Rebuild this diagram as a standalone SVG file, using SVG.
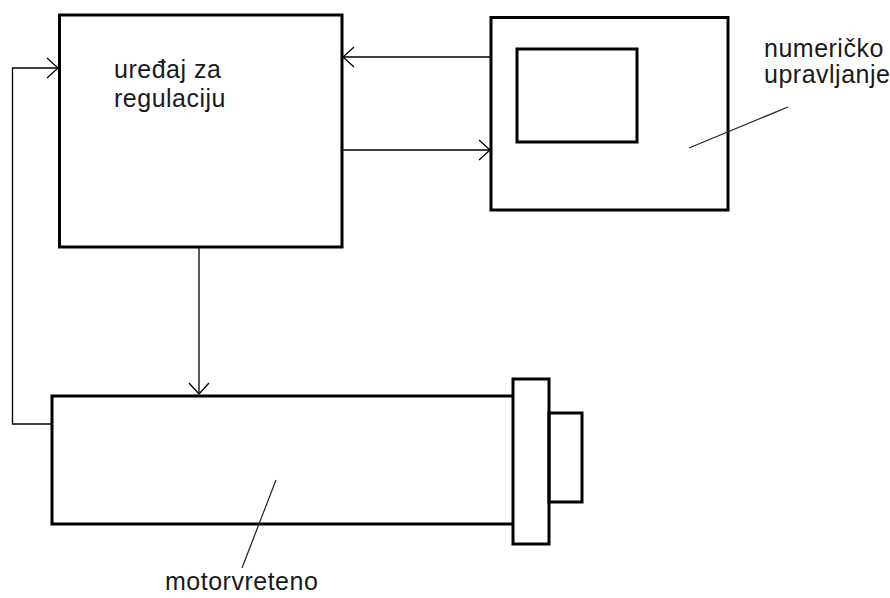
<svg xmlns="http://www.w3.org/2000/svg" width="890" height="598" viewBox="0 0 890 598">
<style>
.box{fill:none;stroke:#000;stroke-width:3}
.con{fill:none;stroke:#000;stroke-width:1.3}
.ptr{fill:none;stroke:#222;stroke-width:1.2}
.lbl{font-family:"Liberation Sans",Arial,sans-serif;font-size:25px;letter-spacing:0.5px;fill:#1a1a1a}
</style>
<defs>
<marker id="arr" markerUnits="userSpaceOnUse" markerWidth="24" markerHeight="24" viewBox="-12 -12 24 24" refX="0" refY="0" orient="auto">
<path d="M-11,-10 L0,0 L-11,10" fill="none" stroke="#000" stroke-width="1.3"/>
</marker>
</defs>
<rect width="890" height="598" fill="#fff"/>
<g id="connectors">
<line class="con" x1="491" y1="57" x2="343" y2="57" marker-end="url(#arr)"/>
<line class="con" x1="343" y1="150" x2="490" y2="150" marker-end="url(#arr)"/>
<line class="con" x1="199" y1="248" x2="199" y2="394" marker-end="url(#arr)"/>
<polyline class="con" points="51,424 12.5,424 12.5,68 58,68" marker-end="url(#arr)"/>
</g>
<g id="regulator">
<rect class="box" x="59.5" y="15" width="282.5" height="232"/>
<text class="lbl" x="114" y="78">uređaj za</text>
<text class="lbl" x="114" y="107">regulaciju</text>
</g>
<g id="nc">
<rect class="box" x="491" y="17.5" width="237" height="192.5"/>
<rect class="box" x="517" y="49" width="120" height="93"/>
<line class="ptr" x1="689" y1="148" x2="788" y2="107"/>
<text class="lbl" x="764" y="57">numeričko</text>
<text class="lbl" x="764" y="83">upravljanje</text>
</g>
<g id="motor">
<path class="box" d="M513,396 L52,396 L52,524 L513,524"/>
<rect class="box" x="513" y="379" width="36" height="165"/>
<rect class="box" x="549" y="413" width="33" height="89"/>
<line class="ptr" x1="276" y1="480" x2="242" y2="568"/>
<text class="lbl" x="165" y="590">motorvreteno</text>
</g>
</svg>
